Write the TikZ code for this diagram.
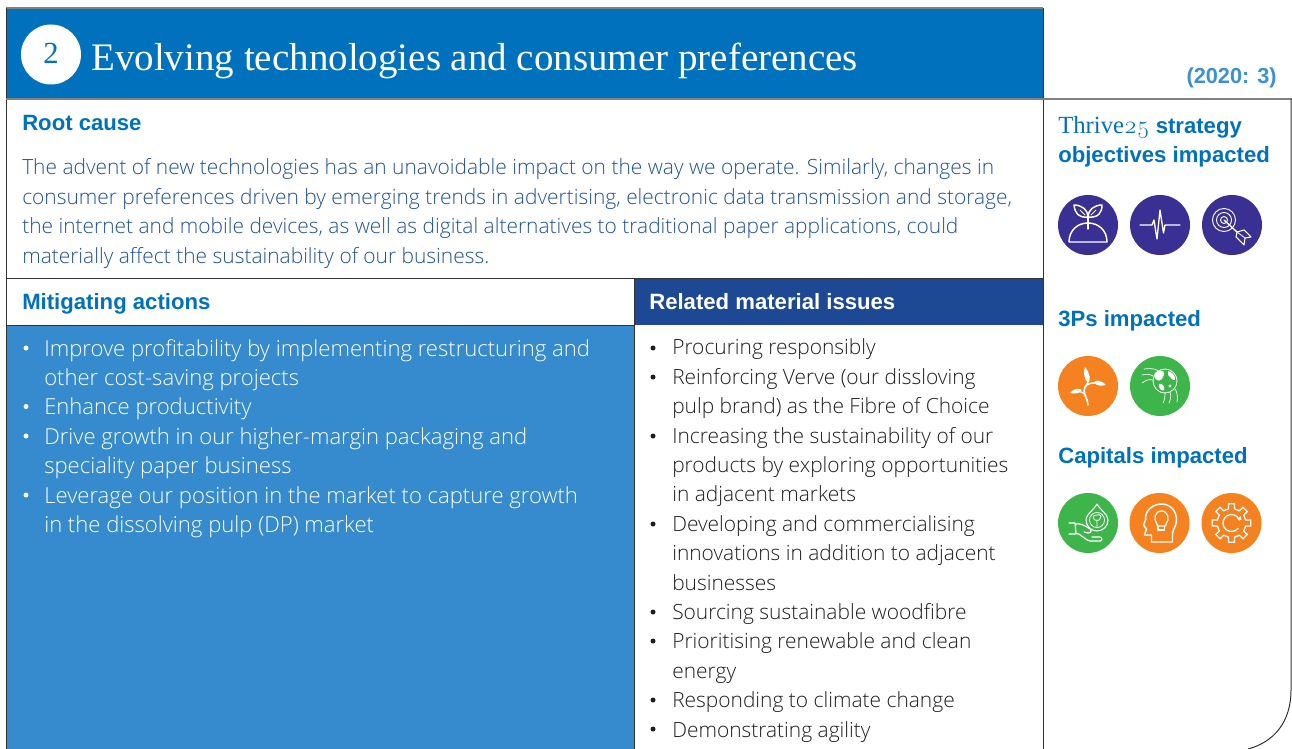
\documentclass[tikz,border=0pt]{standalone}
\usepackage{fontspec}
\setmainfont{Liberation Sans}
\newfontfamily\lightf{Open Sans Light}
\newfontfamily\serf{Liberation Serif}
\definecolor{hblue}{RGB}{0,113,188}
\definecolor{pblue}{RGB}{53,139,205}
\definecolor{dblue}{RGB}{29,73,148}
\definecolor{tblue}{RGB}{32,80,160}
\definecolor{yblue}{RGB}{58,145,212}
\definecolor{purp}{RGB}{58,47,146}
\definecolor{orng}{RGB}{245,130,32}
\definecolor{gren}{RGB}{61,181,74}
\definecolor{frame}{RGB}{50,50,50}
\definecolor{ink}{RGB}{30,30,30}
\tikzset{
  x=0.75pt,y=-0.75pt,
  rule/.style={draw=frame,line width=0.75pt},
  grayrule/.style={draw=black!50,line width=1.5pt},
  ttl/.style={anchor=base west,inner sep=0pt,text=hblue,font=\fontsize{16.6}{22}\selectfont\bfseries},
  bodyt/.style={anchor=base west,inner sep=0pt,align=left,font=\fontsize{15.7}{22.05}\selectfont\lightf},
  ico/.style={draw=white,line width=1pt,line cap=round,line join=round},
}
\begin{document}
\begin{tikzpicture}
\useasboundingbox (0,0) rectangle (1292,749);
% panels
\fill[hblue] (6,8) rectangle (1043,99);
\fill[pblue] (6,325) rectangle (634,749);
\fill[dblue] (634,278) rectangle (1043,325);
% rules
\draw[grayrule] (6,8) -- (1043,8);
\draw[rule] (6,8) -- (6,749);
\draw[rule] (1043,8) -- (1043,749);
\draw[grayrule] (6,99) -- (1292,99);
\draw[rule] (6,278) -- (1043,278);
\draw[rule] (6,325) -- (634,325);
\draw[rule] (634,278) -- (634,749);
\draw[rule] (1291,99) -- (1291,690) .. controls (1291,722) and (1274,742) .. (1248,749);
% header
\node[circle,fill=white,minimum size=45pt,inner sep=0pt,text=hblue,font=\fontsize{23}{28}\selectfont\serf] (num) at (51,54.5) {\raisebox{2pt}{2}};
\node[anchor=base west,inner sep=0pt,text=white,font=\fontsize{29.25}{34}\selectfont\serf] (title) at (91,70) {Evolving technologies and consumer preferences};
\node[anchor=base east,inner sep=0pt,text=yblue,font=\fontsize{16.3}{20}\selectfont\bfseries] (prior) at (1277,84) {(2020: 3)};
% left texts
\node[ttl] (root) at (22,130) {Root cause};
\node[bodyt,text=tblue] (rootb) at (22,263) {The advent of new technologies has an unavoidable impact on the way we operate. Similarly, changes in\\
consumer preferences driven by emerging trends in advertising, electronic data transmission and storage,\\
the internet and mobile devices, as well as digital alternatives to traditional paper applications, could\\
materially affect the sustainability of our business.};
\node[ttl] (mit) at (22,309) {Mitigating actions};
\node[ttl,text=white] (rel) at (649,309) {Related material issues};
% bullets left
\node[bodyt,text=white,font=\fontsize{16.55}{22.05}\selectfont\lightf] (mitb) at (44,532.5) {Improve profitability by implementing restructuring and\\
other cost-saving projects\\
Enhance productivity\\
Drive growth in our higher-margin packaging and\\
speciality paper business\\
Leverage our position in the market to capture growth\\
in the dissolving pulp (DP) market};
\foreach \yy in {348,406.5,436,495}{\fill[white] (26,\yy) circle (2.5);}
% bullets right
\node[bodyt,text=ink] (relb) at (672,737) {Procuring responsibly\\
Reinforcing Verve (our dissloving\\
pulp brand) as the Fibre of Choice\\
Increasing the sustainability of our\\
products by exploring opportunities\\
in adjacent markets\\
Developing and commercialising\\
innovations in addition to adjacent\\
businesses\\
Sourcing sustainable woodfibre\\
Prioritising renewable and clean\\
energy\\
Responding to climate change\\
Demonstrating agility};
\foreach \yy in {348,377,436,524,612,641,700,729}{\fill[ink] (653,\yy) circle (2.5);}
% right column
\node[ttl] (thr) at (1058,133) {{\fontsize{18.5}{22}\selectfont\serf\mdseries Thrive{\fontspec{Latin Modern Roman}[Numbers=OldStyle]25}} strategy};
\node[ttl] (obj) at (1058,162) {objectives impacted};
\node[ttl] (tps) at (1058,326) {3Ps impacted};
\node[ttl] (cap) at (1058,463) {Capitals impacted};
% icons
\foreach \cx/\cy/\col in {1088/225/purp,1160/225/purp,1232/225/purp,1088/386/orng,1160/386/gren,1088/523/gren,1159.5/523/orng,1231.5/523/orng}
  \fill[\col] (\cx,\cy) circle (30);
% sprout
\begin{scope}[shift={(1088,225)}]
  \draw[ico,line width=1.1pt] (-19,17) -- (19,17) .. controls (19,5) and (10,-2) .. (0,-2) .. controls (-10,-2) and (-19,5) .. (-19,17);
  \draw[ico,line width=1.1pt] (0,4) -- (0,-8);
  \draw[ico,line width=1.1pt] (0,-8) .. controls (-10,-7) and (-13,-12) .. (-14,-20) .. controls (-6,-20) and (0,-15) .. (0,-8);
  \draw[ico,line width=1.1pt] (0,-8) .. controls (10,-7) and (14,-12) .. (14,-20) .. controls (6,-20) and (0,-15) .. (0,-8);
  \draw[ico,line width=0.6pt] (-8,-15) -- (-3,-10) (8,-15) -- (3,-10);
\end{scope}
% pulse
\begin{scope}[shift={(1160,225)}]
  \draw[ico] (-20,0) -- (-8,0) -- (-6,-5) -- (-4,8) -- (-3,14) -- (0,-15) -- (3.5,8) -- (5,0) -- (20,0);
\end{scope}
% target
\begin{scope}[shift={(1232,225)}]
  \draw[ico,line width=0.7pt] (-8,-5) circle (11.5) (-8,-5) circle (7.5);
  \draw[ico,line width=0.7pt] (-8,-5) circle (3.5);
  \draw[ico] (-8,-5) -- (5,7);
  \draw[ico,line width=0.8pt] (5,7) -- (4,12) -- (12,20) -- (13,13) -- (19,12) -- (12,5) -- cycle;
  \draw[ico,line width=0.6pt] (5,7) -- (13,13);
\end{scope}
% plant
\begin{scope}[shift={(1088,386)}]
  \draw[ico,line width=1.2pt] (0,19) .. controls (-1,10) and (-6,7) .. (-3,1) .. controls (-1,-2) and (2,-3) .. (6,-3);
  \draw[ico,line width=0.9pt] (-2,10) .. controls (-4,7) and (-7,5) .. (-10,6);
  \draw[ico,line width=0.9pt] (-3,1) .. controls (-1,-2) and (0,-3) .. (0,-6);
  \fill[white] (-3,-19) .. controls (2,-13) and (3,-6) .. (0,-3) .. controls (-4,-7) and (-5,-14) .. (-3,-19);
  \fill[white] (18,-1) .. controls (12,-7) and (6,-6) .. (6,-3) .. controls (9,0) and (14,0) .. (18,-1);
  \fill[white] (-18,7) .. controls (-14,2) and (-9,2) .. (-6,4) .. controls (-9,8) and (-14,8) .. (-18,7);
\end{scope}
% globe
\begin{scope}[shift={(1160,386)}]
  \draw[ico,line width=0.6pt] (5,-5) circle (12);
  \fill[white] (-2,-15) .. controls (3,-17) and (6,-13) .. (3,-9) .. controls (2,-5) and (-3,-4) .. (-5,-8) .. controls (-7,-11) and (-5,-14) .. (-2,-15);
  \fill[white] (8,-15) .. controls (12,-14) and (16,-10) .. (15,-6) .. controls (12,-5) and (11,-9) .. (8,-11) -- cycle;
  \fill[white] (-1,-2) .. controls (2,-3) and (5,0) .. (4,4) .. controls (2,6) and (-2,2) .. (-1,-2);
  \fill[white] (10,0) circle (1.6);
  \draw[ico,line width=0.5pt] (-16,-17) .. controls (-9,-18) and (-3,-17) .. (-2,-15)
    (-18,-11) .. controls (-14,-12) and (-10,-12) .. (-7,-10)
    (-18,-3) .. controls (-14,-6) and (-11,-7) .. (-7,-6)
    (3,17) .. controls (5,13) and (5,9) .. (5,7)
    (9,17) .. controls (11,13) and (11,9) .. (10,6)
    (17,16) .. controls (18,11) and (17,6) .. (15,3);
\end{scope}
% hand with drop
\begin{scope}[shift={(1088,523)}]
  \draw[ico,line width=0.8pt] (9,-19) .. controls (5,-12) and (-2,-9) .. (-2,-3) .. controls (-2,3) and (3,8) .. (9,8) .. controls (15,8) and (20,3) .. (20,-3) .. controls (20,-9) and (13,-12) .. (9,-19);
  \draw[ico,line width=0.6pt] (9,-3) circle (7.5);
  \draw[ico,line width=0.6pt] (9,5) -- (9,-3) (6,-4) .. controls (4,-7) and (7,-9) .. (9,-8) .. controls (12,-9) and (14,-7) .. (12,-4) .. controls (11,-2) and (7,-2) .. (6,-4);
  \draw[ico,line width=0.9pt] (-19,0) -- (-13,0) -- (-12,11) -- (-19,11)
    (-13,1) .. controls (-9,0) and (-3,2) .. (2,6) .. controls (4,8) and (3,10) .. (0,10) -- (-4,9)
    (-12,10) .. controls (-7,11) and (-3,17) .. (2,18) -- (12,18) .. controls (15,18) and (14,13) .. (11,14) -- (4,14);
\end{scope}
% head with bulb
\begin{scope}[shift={(1159.5,523)}]
  \draw[ico,line width=1.1pt] (-8,19) -- (-8,12) -- (-15,12) -- (-13,6) -- (-16,2) -- (-14,-3) .. controls (-15,-13) and (-6,-19) .. (2,-19) .. controls (11,-19) and (17,-12) .. (17,-3) .. controls (17,3) and (13,7) .. (13,11) -- (13,19) -- (-8,19);
  \draw[ico,line width=0.9pt] (-3,0) .. controls (-6,-3) and (-5,-12) .. (2,-12) .. controls (9,-12) and (10,-3) .. (7,0) .. controls (6,1) and (6,2) .. (6,3) -- (-2,3) .. controls (-2,2) and (-2,1) .. (-3,0);
  \draw[ico,line width=0.8pt] (-1.5,3) -- (-1.5,7) -- (5,7) -- (5,3);
\end{scope}
% gear
\begin{scope}[shift={(1231.5,523)}]
  \draw[ico,line width=1pt]
   \foreach \a in {0,45,...,315}{ (\a-12:14.5) -- (\a-9:19.5) -- (\a+9:19.5) -- (\a+12:14.5) -- (\a+33:14.5) };
  \draw[ico,line width=1pt] (40:8.5) arc[start angle=40,end angle=340,radius=8.5];
  \fill[white] (6,-4) -- (9,-7) -- (10,-3) -- cycle;
\end{scope}
\end{tikzpicture}
\end{document}
